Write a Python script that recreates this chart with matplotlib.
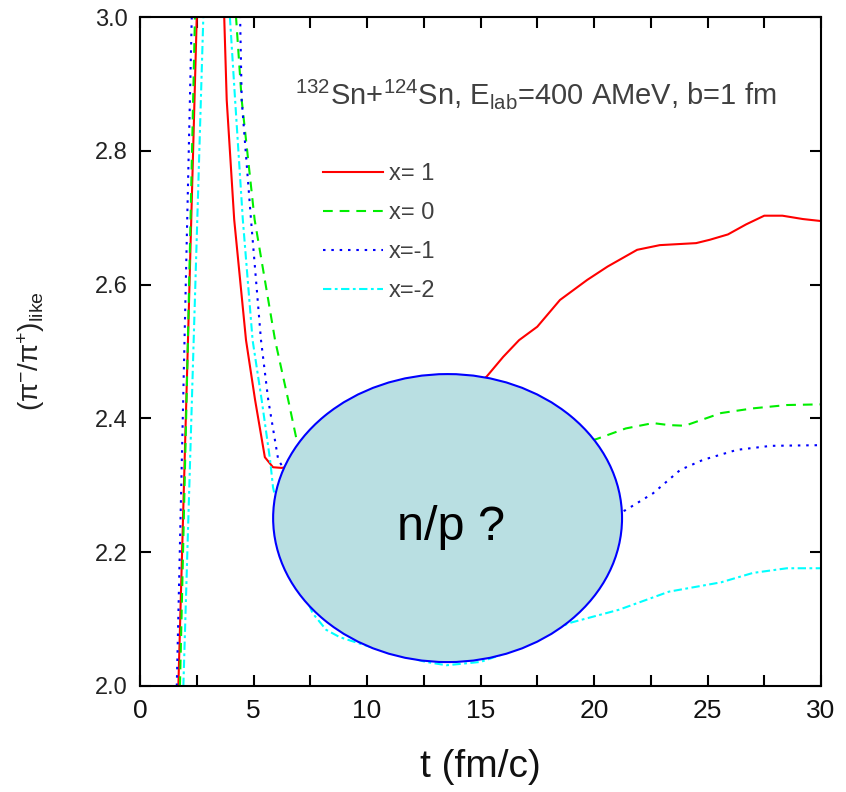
import matplotlib
matplotlib.use("Agg")
import matplotlib.pyplot as plt
from matplotlib.patches import Ellipse
from matplotlib.ticker import MultipleLocator, FormatStrFormatter

# --- data ---
t_x1 = [1.69, 2.1, 2.5, 3.1, 3.71, 3.82, 4.15, 4.67, 5.07, 5.5, 5.86, 6.24, 7, 8, 10, 12, 14,
        15.27, 16.0, 16.7, 17.5, 18.5, 19.7, 20.6, 21.9, 22.9, 24.5, 25.1, 25.9, 26.7, 27.5,
        28.3, 29.2, 30]
r_x1 = [2.0, 2.5, 3.0, 3.4, 3.0, 2.876, 2.697, 2.517, 2.4275, 2.342, 2.327, 2.326, 2.33, 2.34,
        2.37, 2.40, 2.43, 2.4625, 2.492, 2.517, 2.537, 2.577, 2.607, 2.627, 2.652, 2.659, 2.662,
        2.667, 2.675, 2.69, 2.703, 2.703, 2.698, 2.695]

t_x0 = [1.76, 2.1, 2.42, 3.2, 4.23, 4.48, 5.05, 5.95, 6.53, 6.9, 7.5, 9, 12, 15, 18, 20.1,
        21.4, 22.6, 23.3, 24.0, 25.6, 27.0, 28.5, 30]
r_x0 = [2.0, 2.5, 3.0, 3.4, 3.0, 2.876, 2.697, 2.517, 2.4275, 2.368, 2.35, 2.33, 2.33, 2.34,
        2.35, 2.369, 2.385, 2.393, 2.39, 2.389, 2.408, 2.415, 2.42, 2.421]

t_xm1 = [1.62, 1.95, 2.28, 3.2, 4.41, 4.48, 4.89, 5.33, 5.65, 6.09, 7, 9, 12, 15, 18, 20.5,
         21.4, 22.6, 23.8, 24.8, 26.3, 27.8, 30]
r_xm1 = [2.0, 2.5, 3.0, 3.4, 3.0, 2.876, 2.697, 2.517, 2.4275, 2.338, 2.29, 2.24, 2.22, 2.22,
         2.23, 2.25, 2.263, 2.288, 2.323, 2.338, 2.353, 2.359, 2.36]

t_xm2 = [1.91, 2.35, 2.79, 3.4, 3.96, 4.19, 4.53, 4.96, 5.36, 5.73, 5.86, 6.5, 7.6, 8.2, 8.8,
         10, 11.5, 12.6, 13.5, 14.4, 15.0, 16.2, 17.2, 18.0, 18.9, 21.1, 23.3, 25.6, 27.0,
         28.5, 30]
r_xm2 = [2.0, 2.5, 3.0, 3.4, 3.0, 2.876, 2.697, 2.517, 2.4275, 2.338, 2.297, 2.2, 2.109,
         2.084, 2.073, 2.06, 2.045, 2.036, 2.031, 2.034, 2.036, 2.05, 2.068, 2.08, 2.094,
         2.114, 2.141, 2.155, 2.169, 2.176, 2.176]

labels = ["x= 1", "x= 0", "x=-1", "x=-2"]
colors = ["#ff0000", "#00ee00", "#0000ff", "#00ffff"]

plt.rcParams["font.family"] = ["Liberation Sans", "DejaVu Sans"]
plt.rcParams["mathtext.fontset"] = "custom"
plt.rcParams["mathtext.rm"] = "Liberation Sans"
plt.rcParams["mathtext.it"] = "Liberation Sans:italic"
plt.rcParams["lines.scale_dashes"] = False

fig = plt.figure(figsize=(8.46, 7.92), dpi=100)
ax = fig.add_axes([140 / 846, 1 - 686 / 792, 681 / 846, 669 / 792])

lw = 1.5
ax.plot(t_x1, r_x1, color=colors[0], lw=lw, label=labels[0])
ax.plot(t_x0, r_x0, color=colors[1], lw=lw, dashes=(7, 5), label=labels[1])
ax.plot(t_xm1, r_xm1, color=colors[2], lw=lw, dashes=(1.8, 4.2), label=labels[2])
ax.plot(t_xm2, r_xm2, color=colors[3], lw=lw, dashes=(6, 2.5, 2, 2.5), label=labels[3])

ell = Ellipse((13.55, 2.251), 15.37, 0.4305, facecolor="#b9dfe2", edgecolor="#0000ff",
              lw=1.5, zorder=5)
ax.add_patch(ell)
ax.text(13.7, 2.237, "n/p ?", fontsize=35, color="black", ha="center", va="center",
        zorder=6)

ax.set_xlim(0, 30)
ax.set_ylim(2.0, 3.0)
ax.xaxis.set_major_locator(MultipleLocator(5))
ax.xaxis.set_minor_locator(MultipleLocator(2.5))
ax.yaxis.set_major_locator(MultipleLocator(0.2))
ax.yaxis.set_major_formatter(FormatStrFormatter("%.1f"))
ax.tick_params(which="both", direction="in", top=True, right=True, length=8, width=1.5)
ax.tick_params(axis="x", pad=9, labelsize=19, labelcolor="#111111")
ax.tick_params(axis="y", pad=9, labelsize=17, labelcolor="#222222")
for s in ax.spines.values():
    s.set_linewidth(1.5)

ax.set_xlabel("t (fm/c)", fontsize=28, color="#111111", labelpad=19)
ax.set_ylabel(r"$(\mathrm{\pi}^{-}/\mathrm{\pi}^{+})_{\mathrm{like}}$", fontsize=20,
              color="#222222", labelpad=34)

ax.text(295 / 846, 1 - 104 / 792,
        r"$^{\mathregular{132}}$Sn+$^{\mathregular{124}}$Sn, E$_{\mathregular{lab}}$=400 AMeV, b=1 fm",
        transform=fig.transFigure, fontsize=21, color="#404040")

ax.legend(loc="upper left", bbox_to_anchor=(323 / 846, 1 - 163 / 792),
          bbox_transform=fig.transFigure, frameon=False, fontsize=17, handlelength=2.55,
          handletextpad=0.25, labelspacing=0.72, borderpad=0, borderaxespad=0,
          labelcolor="#404040")

fig.savefig("out.png", dpi=100)
